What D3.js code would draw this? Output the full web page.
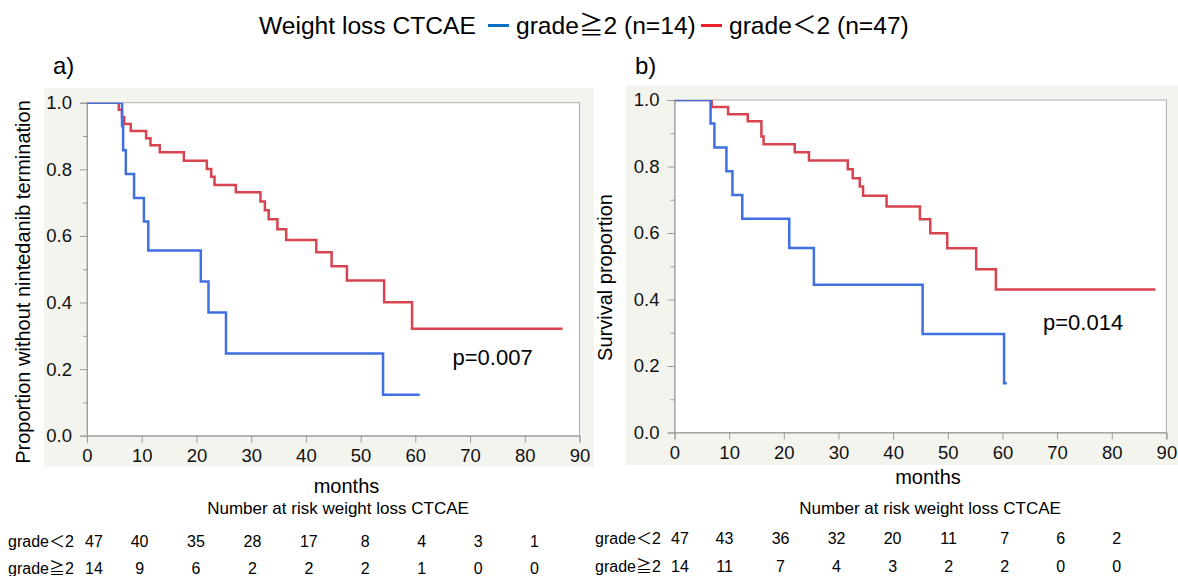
<!DOCTYPE html>
<html><head><meta charset="utf-8">
<script src="https://cdn.jsdelivr.net/npm/d3@7"></script>
<style>
html,body{margin:0;padding:0;background:#fff;}
svg{display:block;font-family:"Liberation Sans",Arial,"Noto Sans CJK JP",sans-serif;}
</style></head><body>
<svg id="chart" width="1178" height="576"></svg>
<script>
// ---------------- data ----------------
const legendTitle = "Weight loss CTCAE";
const groupLabels = ["grade≧2 (n=14)", "grade＜2 (n=47)"];
const timeTicks = [0, 10, 20, 30, 40, 50, 60, 70, 80, 90];
const yTicks = [0, 0.2, 0.4, 0.6, 0.8, 1.0];
const yMinorTicks = [0.1, 0.3, 0.5, 0.7, 0.9];
const riskRowLabels = ["grade＜2", "grade≧2"];
const riskTimes = [0, 10, 20, 30, 40, 50, 60, 70, 80];

// Panel a) – proportion without nintedanib termination
const aLowTimes = [0, 5.8, 6.4, 6.8, 8.0, 10.8, 11.6, 13.3, 17.7, 21.9, 22.7, 23.3, 27.2, 31.7, 32.5, 33.2, 34.8, 36.4, 41.9, 44.7, 47.5, 54.3, 59.4];
const aLowSurv  = [1, 0.979, 0.957, 0.936, 0.915, 0.893, 0.872, 0.851, 0.826, 0.801, 0.778, 0.753, 0.731, 0.703, 0.677, 0.650, 0.620, 0.588, 0.551, 0.509, 0.466, 0.401, 0.321];
const aLowEnd = 86.9;
const aHighTimes = [0, 6.4, 6.6, 7.1, 8.6, 10.4, 11.2, 20.8, 22.2, 25.4, 54.1];
const aHighSurv  = [1, 0.929, 0.857, 0.786, 0.714, 0.643, 0.556, 0.463, 0.370, 0.247, 0.123];
const aHighEnd = 60.8;
const aRiskLow  = [47, 40, 35, 28, 17, 8, 4, 3, 1];
const aRiskHigh = [14, 9, 6, 2, 2, 2, 1, 0, 0];
const aPValue = "p=0.007";

// Panel b) – survival
const bLowTimes = [0, 6.8, 9.8, 13.4, 15.9, 16.3, 22.0, 24.6, 31.7, 32.6, 33.9, 34.5, 38.8, 44.9, 46.8, 49.9, 55.2, 58.8];
const bLowSurv  = [1, 0.979, 0.957, 0.936, 0.890, 0.867, 0.843, 0.818, 0.792, 0.765, 0.740, 0.712, 0.680, 0.641, 0.599, 0.554, 0.491, 0.430];
const bLowEnd = 88.0;
const bHighTimes = [0, 6.6, 7.3, 9.5, 10.6, 12.4, 21.0, 25.5, 45.4, 60.3];
const bHighSurv  = [1, 0.929, 0.857, 0.786, 0.714, 0.643, 0.555, 0.444, 0.296, 0.148];
const bHighEnd = 60.8;
const bRiskLow  = [47, 43, 36, 32, 20, 11, 7, 6, 2];
const bRiskHigh = [14, 11, 7, 4, 3, 2, 2, 0, 0];
const bPValue = "p=0.014";

// ---------------- styles ----------------
const colHigh = "#3f6fe0", colLow = "#d7434f";
const legHigh = "#0a6fc2", legLow = "#e8202a";
const bgCol = "#f4f4ef", axisCol = "#9a9a9a";

const svg = d3.select("#chart");

// legend / title
const leg = svg.append("g");
leg.append("text").attr("x", 259).attr("y", 33.5).attr("font-size", 24.6).text(legendTitle);
leg.append("line").attr("x1", 488).attr("x2", 509).attr("y1", 25.5).attr("y2", 25.5).attr("stroke", legHigh).attr("stroke-width", 3);
leg.append("text").attr("x", 516).attr("y", 33.5).attr("font-size", 24.6).text(groupLabels[0]);
leg.append("line").attr("x1", 701).attr("x2", 722).attr("y1", 25.5).attr("y2", 25.5).attr("stroke", legLow).attr("stroke-width", 3);
leg.append("text").attr("x", 729).attr("y", 33.5).attr("font-size", 24.6).text(groupLabels[1]);

const panels = [
  { id: "a", tag: "a)", tagX: 53, tagY: 74,
    bg: [44, 88, 550, 379], plot: { l: 87, r: 579.5, t: 102.7, b: 435.7 },
    yTitle: "Proportion without nintedanib termination", yTitleX: 30, yTitleY: 282,
    low: [aLowTimes, aLowSurv, aLowEnd], high: [aHighTimes, aHighSurv, aHighEnd],
    p: aPValue, pX: 452.5, pY: 365,
    monthsX: 346.5, monthsY: 493, riskTitleX: 338, riskTitleY: 514,
    rowLabelX: 8, rowY: [547, 574],
    riskFirstX: 94, riskScale: [139.6, 534.5],
    riskLow: aRiskLow, riskHigh: aRiskHigh },
  { id: "b", tag: "b)", tagX: 635, tagY: 74,
    bg: [626, 85, 552, 380], plot: { l: 674.5, r: 1166.4, t: 100, b: 432.5 },
    yTitle: "Survival proportion", yTitleX: 612, yTitleY: 277.5,
    low: [bLowTimes, bLowSurv, bLowEnd], high: [bHighTimes, bHighSurv, bHighEnd],
    p: bPValue, pX: 1043, pY: 330,
    monthsX: 928, monthsY: 484, riskTitleX: 930, riskTitleY: 514,
    rowLabelX: 595, rowY: [544, 572],
    riskFirstX: 680, riskScale: [724.5, 1116.7],
    riskLow: bRiskLow, riskHigh: bRiskHigh }
];

panels.forEach(P => {
  const g = svg.append("g");
  g.append("rect").attr("x", P.bg[0]).attr("y", P.bg[1]).attr("width", P.bg[2]).attr("height", P.bg[3]).attr("fill", bgCol);
  g.append("text").attr("x", P.tagX).attr("y", P.tagY).attr("font-size", 24).text(P.tag);

  const x = d3.scaleLinear().domain([0, 90]).range([P.plot.l, P.plot.r]);
  const y = d3.scaleLinear().domain([0, 1]).range([P.plot.b, P.plot.t]);

  g.append("rect").attr("x", P.plot.l).attr("y", P.plot.t)
    .attr("width", P.plot.r - P.plot.l).attr("height", P.plot.b - P.plot.t)
    .attr("fill", "#fff").attr("stroke", "#b0b0b0").attr("stroke-width", 1);

  // clip
  svg.append("clipPath").attr("id", "clip-" + P.id).append("rect")
    .attr("x", P.plot.l).attr("y", P.plot.t)
    .attr("width", P.plot.r - P.plot.l).attr("height", P.plot.b - P.plot.t);

  // axes
  const ya = g.append("g").attr("transform", `translate(${P.plot.l},0)`)
    .call(d3.axisLeft(y).tickValues(yTicks).tickFormat(d3.format(".1f")).tickSize(7).tickPadding(8));
  const ym = g.append("g").attr("transform", `translate(${P.plot.l},0)`)
    .call(d3.axisLeft(y).tickValues(yMinorTicks).tickFormat("").tickSize(4));
  ym.select(".domain").remove();
  const xa = g.append("g").attr("transform", `translate(0,${P.plot.b})`)
    .call(d3.axisBottom(x).tickValues(timeTicks).tickSize(7).tickPadding(6));
  [ya, ym, xa].forEach(a => {
    a.selectAll(".domain").attr("stroke", axisCol);
    a.selectAll(".tick line").attr("stroke", axisCol);
    a.selectAll("text").attr("font-size", 18.5).attr("fill", "#111")
      .attr("font-family", '"Liberation Sans",Arial,sans-serif');
  });

  // curves
  const line = d3.line().x(d => x(d[0])).y(d => y(d[1])).curve(d3.curveStepAfter);
  const pts = (s) => { const p = s[0].map((t, i) => [t, s[1][i]]); p.push([s[2], s[1][s[1].length - 1]]); return p; };
  const cg = g.append("g").attr("clip-path", `url(#clip-${P.id})`);
  cg.append("path").attr("d", line(pts(P.low))).attr("fill", "none").attr("stroke", colLow).attr("stroke-width", 2.5);
  cg.append("path").attr("d", line(pts(P.high))).attr("fill", "none").attr("stroke", colHigh).attr("stroke-width", 2.5);

  // p value
  g.append("text").attr("x", P.pX).attr("y", P.pY).attr("font-size", 22).text(P.p);

  // y title
  g.append("text").attr("transform", `translate(${P.yTitleX},${P.yTitleY}) rotate(-90)`)
    .attr("text-anchor", "middle").attr("font-size", 20).text(P.yTitle);

  // x title
  g.append("text").attr("x", P.monthsX).attr("y", P.monthsY).attr("text-anchor", "middle").attr("font-size", 20).text("months");
  g.append("text").attr("x", P.riskTitleX).attr("y", P.riskTitleY).attr("text-anchor", "middle").attr("font-size", 17)
    .text("Number at risk weight loss CTCAE");

  // risk table
  const rs = d3.scaleLinear().domain([10, 80]).range(P.riskScale);
  const rx = t => t === 0 ? P.riskFirstX : rs(t);
  [P.riskLow, P.riskHigh].forEach((row, ri) => {
    g.append("text").attr("x", P.rowLabelX).attr("y", P.rowY[ri]).attr("font-size", 16).text(riskRowLabels[ri]);
    g.selectAll(null).data(row).enter().append("text")
      .attr("x", (d, i) => rx(riskTimes[i])).attr("y", P.rowY[ri])
      .attr("text-anchor", "middle").attr("font-size", 16).text(d => d);
  });
});
</script>
</body></html>
